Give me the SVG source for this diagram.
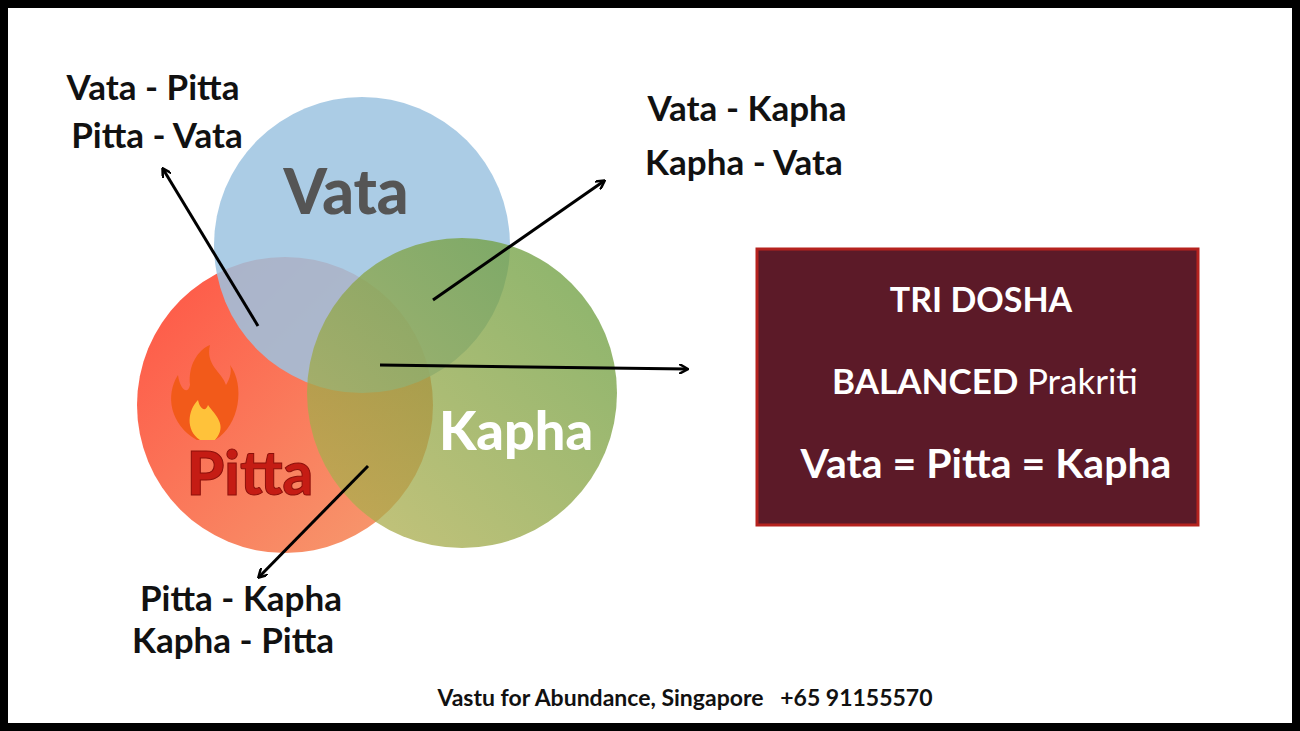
<svg xmlns="http://www.w3.org/2000/svg" width="1300" height="731" viewBox="0 0 1300 731">
<defs>
<marker id="ah" markerWidth="10" markerHeight="10" refX="8" refY="5" orient="auto" markerUnits="userSpaceOnUse"><path d="M0,0 L9,5 L0,10" fill="none" stroke="#000" stroke-width="2.5"/></marker>
<linearGradient id="pg" x1="0" y1="0" x2="1" y2="1"><stop offset="0" stop-color="#ff4a3a"/><stop offset="1" stop-color="#f59a6a"/></linearGradient>
<linearGradient id="kg" x1="0" y1="1" x2="1" y2="0"><stop offset="0" stop-color="#b8b050"/><stop offset="1" stop-color="#5f9a3a"/></linearGradient>
</defs>
<style>
.lbl{font-family:"Lato","Liberation Sans",sans-serif;font-weight:700;font-size:35px;fill:#111}
.conn line{stroke:#000;stroke-width:3;marker-end:url(#ah)}
.bt{font-family:"Lato","Liberation Sans",sans-serif;fill:#fff;font-weight:700}
</style>
<rect x="4" y="4" width="1292" height="723" fill="#fff" stroke="#000" stroke-width="8"/>
<g id="pitta"><circle cx="285" cy="405" r="148" fill="url(#pg)" opacity="0.95"/>
<path d="M197,440 C170,425 165,395 178,375 C180,390 188,395 190,385 C188,365 198,350 210,345 C205,365 222,372 226,385 C230,378 232,372 230,365 C245,385 240,425 215,440 Z" fill="#f25a1a"/>
<path d="M200,440 C185,430 188,410 198,400 C200,410 206,412 208,405 C215,415 228,425 215,440 Z" fill="#ffc23a"/>
<text x="250" y="495" text-anchor="middle" font-family="Lato,'Liberation Sans',sans-serif" font-weight="900" font-size="60" fill="#c51c14" stroke="#8a0f0a" stroke-width="1">Pitta</text></g>
<g id="vata"><circle cx="362" cy="245" r="148" fill="#9cc3e0" opacity="0.85"/>
<text x="346" y="214" text-anchor="middle" font-family="Lato,'Liberation Sans',sans-serif" font-weight="900" font-size="62" fill="#555">Vata</text></g>
<g id="kapha"><circle cx="462" cy="393" r="155" fill="url(#kg)" opacity="0.75"/>
<text x="516" y="450" text-anchor="middle" font-family="Lato,'Liberation Sans',sans-serif" font-weight="900" font-size="54" fill="#fff">Kapha</text></g>
<g id="labels">
<text class="lbl" x="153" y="100" text-anchor="middle">Vata - Pitta</text>
<text class="lbl" x="157" y="148" text-anchor="middle">Pitta - Vata</text>
<text class="lbl" x="747" y="121" text-anchor="middle">Vata - Kapha</text>
<text class="lbl" x="744" y="175" text-anchor="middle">Kapha - Vata</text>
<text class="lbl" x="241" y="611" text-anchor="middle">Pitta - Kapha</text>
<text class="lbl" x="233" y="653" text-anchor="middle">Kapha - Pitta</text>
</g>
<g id="box"><rect x="757" y="249" width="441" height="276" fill="#5c1a28" stroke="#b5221e" stroke-width="3"/>
<text class="bt" x="981" y="312" text-anchor="middle" font-size="34">TRI DOSHA</text>
<text class="bt" x="985" y="394" text-anchor="middle" font-size="35">BALANCED <tspan font-weight="400">Prakriti</tspan></text>
<text class="bt" x="986" y="478" text-anchor="middle" font-size="41">Vata = Pitta = Kapha</text></g>
<g class="conn" id="connectors">
<line x1="258" y1="326" x2="163" y2="169"/>
<line x1="433" y1="300" x2="604" y2="181"/>
<line x1="380" y1="365" x2="687" y2="369"/>
<line x1="368" y1="466" x2="259" y2="577"/>
</g>
<text x="685" y="706" text-anchor="middle" xml:space="preserve" font-family="Lato,'Liberation Sans',sans-serif" font-weight="700" font-size="23" fill="#111">Vastu for Abundance, Singapore   +65 91155570</text>
</svg>
